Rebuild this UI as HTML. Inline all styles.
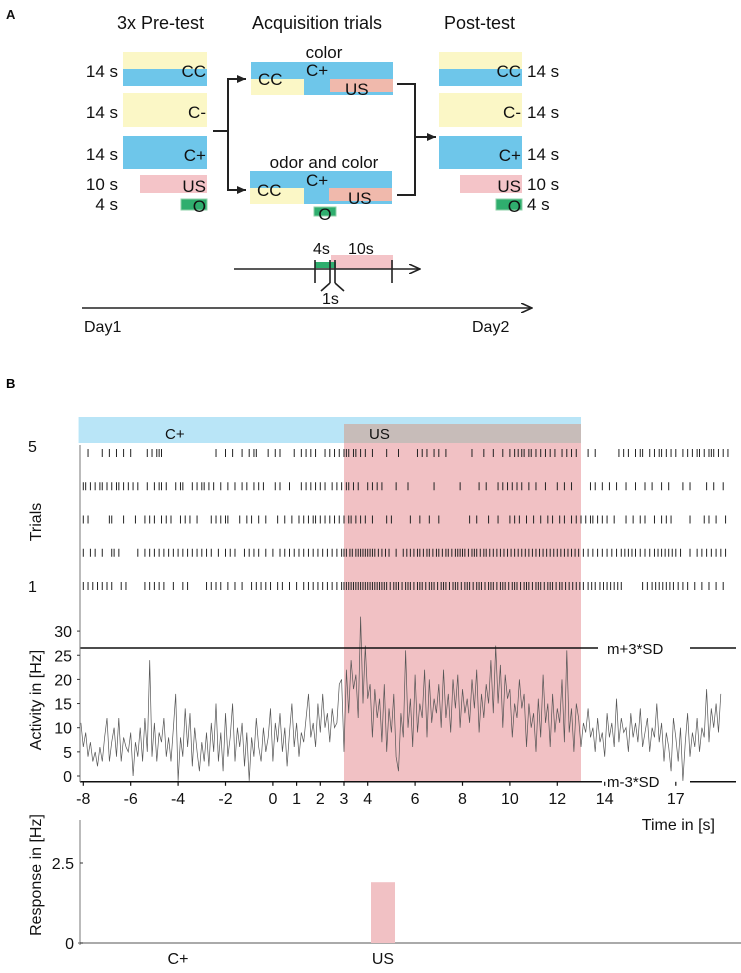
<!DOCTYPE html>
<html><head><meta charset="utf-8">
<style>
html,body{margin:0;padding:0;background:#fff;}
svg{display:block;font-family:"Liberation Sans",sans-serif;}
</style></head>
<body>
<svg id="fig" width="741" height="973" viewBox="0 0 741 973" xmlns="http://www.w3.org/2000/svg">
<defs>
<marker id="ah" markerWidth="12" markerHeight="10" refX="11" refY="5" orient="auto" markerUnits="userSpaceOnUse">
<path d="M0,0 L11,5 L0,10" fill="none" stroke="#222" stroke-width="1.6"/></marker>
<marker id="ahf" markerWidth="10" markerHeight="8" refX="9" refY="4" orient="auto" markerUnits="userSpaceOnUse">
<path d="M0,0 L9,4 L0,8 z" fill="#222"/></marker>
</defs>

<!-- PANEL A -->
<g font-size="17" fill="#111">
<text x="6" y="19" font-weight="bold" font-size="13">A</text>
<text x="117" y="29" font-size="18">3x Pre-test</text>
<text x="252" y="29" font-size="18">Acquisition trials</text>
<text x="444" y="29" font-size="18">Post-test</text>

<g>
<rect x="123" y="52" width="84" height="17" fill="#fbf7c6"/><rect x="123" y="69" width="84" height="17" fill="#6ec6ea"/>
<text x="206" y="77" text-anchor="end" font-size="17">CC</text>
<rect x="123" y="93" width="84" height="34" fill="#fbf7c6"/><text x="206" y="118" text-anchor="end" font-size="17">C-</text>
<rect x="123" y="136" width="84" height="33" fill="#6ec6ea"/><text x="206" y="161" text-anchor="end" font-size="17">C+</text>
<rect x="140" y="175" width="67" height="18" fill="#f4c4c8"/><text x="206" y="192" text-anchor="end" font-size="17">US</text>
<rect x="181" y="199" width="26" height="11" fill="#2fae6e" stroke="#8fd0a8"/><text x="206" y="212" text-anchor="end" font-size="17">O</text>
<text x="118" y="77" text-anchor="end">14 s</text><text x="118" y="118" text-anchor="end">14 s</text>
<text x="118" y="160" text-anchor="end">14 s</text><text x="118" y="190" text-anchor="end">10 s</text>
<text x="118" y="210" text-anchor="end">4 s</text>
</g>

<g>
<rect x="439" y="52" width="83" height="17" fill="#fbf7c6"/><rect x="439" y="69" width="83" height="17" fill="#6ec6ea"/>
<text x="521" y="77" text-anchor="end" font-size="17">CC</text>
<rect x="439" y="93" width="83" height="34" fill="#fbf7c6"/><text x="521" y="118" text-anchor="end" font-size="17">C-</text>
<rect x="439" y="136" width="83" height="33" fill="#6ec6ea"/><text x="521" y="161" text-anchor="end" font-size="17">C+</text>
<rect x="460" y="175" width="62" height="18" fill="#f4c4c8"/><text x="521" y="192" text-anchor="end" font-size="17">US</text>
<rect x="496" y="199" width="26" height="11" fill="#2fae6e" stroke="#8fd0a8"/><text x="521" y="212" text-anchor="end" font-size="17">O</text>
<text x="527" y="77">14 s</text><text x="527" y="118">14 s</text><text x="527" y="160">14 s</text>
<text x="527" y="190">10 s</text><text x="527" y="210">4 s</text>
</g>

<g>
<text x="324" y="58" text-anchor="middle">color</text>
<rect x="251" y="62" width="53" height="17" fill="#6ec6ea"/><rect x="251" y="79" width="53" height="16" fill="#fbf7c6"/>
<rect x="304" y="62" width="89" height="33" fill="#6ec6ea"/><rect x="330" y="79" width="63" height="13" fill="#f0b9ac"/>
<text x="258" y="85" font-size="17">CC</text><text x="306" y="76" font-size="17">C+</text><text x="345" y="95" font-size="17">US</text>
</g>
<g>
<text x="324" y="168" text-anchor="middle">odor and color</text>
<rect x="250" y="171" width="54" height="17" fill="#6ec6ea"/><rect x="250" y="188" width="54" height="16" fill="#fbf7c6"/>
<rect x="304" y="171" width="88" height="33" fill="#6ec6ea"/><rect x="329" y="188" width="63" height="13" fill="#f0b9ac"/>
<rect x="314" y="207" width="22" height="9" fill="#2fae6e" stroke="#8fd0a8"/>
<text x="257" y="196" font-size="17">CC</text><text x="306" y="186" font-size="17">C+</text><text x="348" y="204" font-size="17">US</text>
<text x="325" y="220" text-anchor="middle" font-size="17">O</text>
</g>

<g stroke="#222" stroke-width="2" fill="none">
<path d="M213,131 H228 V79 H246" marker-end="url(#ahf)"/>
<path d="M228,131 V190 H246" marker-end="url(#ahf)"/>
<path d="M397,84 H415 V195 H397"/>
<path d="M415,137 H436" marker-end="url(#ahf)"/>
</g>

<g>
<rect x="331" y="255" width="62" height="14" fill="#f4c4c8"/>
<rect x="315" y="262" width="21" height="6" fill="#2fae6e"/>
<line x1="234" y1="269" x2="420" y2="269" stroke="#222" stroke-width="1.6" marker-end="url(#ah)"/>
<g stroke="#222" stroke-width="1.6">
<line x1="315" y1="260" x2="315" y2="283"/><line x1="330" y1="260" x2="330" y2="283"/>
<line x1="335" y1="260" x2="335" y2="283"/><line x1="392" y1="260" x2="392" y2="283"/>
<path d="M330,283 L321,291 M335,283 L344,291" fill="none"/></g>
<text x="313" y="254" font-size="16">4s</text><text x="348" y="254" font-size="16">10s</text>
<text x="322" y="304" font-size="16">1s</text>
</g>
<line x1="82" y1="308" x2="532" y2="308" stroke="#222" stroke-width="1.6" marker-end="url(#ah)"/>
<text x="84" y="332" font-size="16">Day1</text>
<text x="472" y="332" font-size="16">Day2</text>
</g>

<!-- PANEL B -->
<text x="6" y="388" font-weight="bold" font-size="13">B</text>
<g id="panelB" font-size="15" fill="#111"></g>
</svg>

<script>
// ---- data ----
const trace = [11,6,9,4,7,3,5,2,6,3,8,12,3,7,10,4,12,3,8,6,5,9,0,7,4,10,3,12,5,24,4,11,3,9,7,12,4,8,3,10,17,-1,8,4,14,6,13,2,10,5,
1,7,3,9,2,11,5,15,3,9,1,13,4,8,15,3,10,6,11,2,9,-1,8,4,12,6,3,10,5,8,14,3,11,7,13,5,10,2,9,15,6,11,4,9,7,12,17,8,11,6,15,9,17,10,13,7,14,10,11,19,
20,5,22,13,24,18,21,12,33,15,27,16,19,8,18,12,16,7,19,5,14,9,17,4,1,13,8,26,10,16,6,21,9,15,12,22,8,20,11,16,13,19,10,22,12,17,9,20,14,21,10,18,13,16,11,20,14,22,9,17,12,19,15,24,13,27,15,23,10,21,16,18,8,15,12,20,14,17,6,15,10,13,5,16,8,21,11,15,6,17,9,14,11,20,7,26,9,14,5,15,
12,6,11,9,14,8,10,5,12,7,9,4,13,8,11,6,16,7,12,9,10,5,13,8,11,7,14,6,9,12,5,10,8,15,7,11,3,9,6,1,12,8,3,10,-1,7,13,4,9,6,12,5,10,8,18,7,14,10,15,9,17];
const traceStart = -8.1, traceStep = 0.1;
const thresholdHigh = 26.5, thresholdLow = -1.2;
const xTicks = [-8,-6,-4,-2,0,1,2,3,4,6,8,10,12,14,17];
const yTicks = [0,5,10,15,20,25,30];
const responseCats = ["C+","US"];
const responseVals = [0, 1.9];
const csStart = -8.2, usStart = 3, usEnd = 13;
const spikes5 = [-7.8,-7.2,-6.9,-6.6,-6.3,-6.0,-5.3,-5.1,-4.9,-4.8,-4.7,-2.4,-2.0,-1.7,-1.3,-1.0,-0.8,-0.7,-0.2,0.1,0.3,0.9,1.2,1.4,1.6,1.8,2.2,2.4,2.6,2.8,3.0,3.1,3.2,3.4,3.5,3.7,3.9,4.2,4.8,5.3,6.1,6.3,6.5,6.8,7.0,7.3,8.4,8.9,9.3,9.7,10.0,10.2,10.35,10.5,10.6,10.8,10.9,11.1,11.3,11.5,11.7,11.9,12.2,12.4,12.6,12.8,13.3,13.6,14.6,14.8,15.0,15.3,15.5,15.6,15.9,16.1,16.3,16.4,16.6,16.8,17.0,17.3,17.5,17.7,17.9,18.0,18.2,18.4,18.5,18.6,18.8,19.0,19.2];
const spikes4 = [-8.0,-7.9,-7.7,-7.5,-7.3,-7.2,-7.0,-6.8,-6.6,-6.5,-6.3,-6.1,-5.9,-5.7,-5.3,-5.0,-4.8,-4.7,-4.5,-4.1,-3.9,-3.8,-3.4,-3.2,-3.0,-2.9,-2.7,-2.5,-2.2,-1.9,-1.6,-1.3,-1.1,-0.8,-0.6,-0.4,0.1,0.3,0.7,1.2,1.4,1.6,1.8,2.0,2.2,2.5,2.7,2.9,3.1,3.2,3.4,3.6,4.0,4.2,4.4,4.6,5.2,5.7,6.8,7.9,8.7,9.0,9.5,9.7,9.9,10.1,10.3,10.5,10.8,11.1,11.5,12.0,12.3,12.6,13.4,13.6,13.9,14.2,14.5,14.9,15.3,15.7,16.0,16.4,16.7,17.3,17.6,18.3,18.6,19.0];
const spikes3 = [-8.0,-7.8,-6.9,-6.8,-6.3,-5.8,-5.4,-5.2,-5.0,-4.7,-4.5,-4.3,-3.9,-3.7,-3.5,-3.2,-2.6,-2.4,-2.2,-2.0,-1.9,-1.4,-1.1,-0.9,-0.6,-0.3,0.2,0.5,0.8,1.1,1.3,1.5,1.7,1.8,2.0,2.2,2.4,2.6,2.8,3.0,3.2,3.3,3.5,3.7,3.9,4.2,4.8,5.0,5.8,6.2,6.6,7.0,8.3,8.6,9.1,9.5,10.0,10.2,10.4,10.7,11.0,11.3,11.6,11.8,12.1,12.3,12.6,12.8,13.0,13.2,13.4,13.5,13.7,13.9,14.1,14.4,14.9,15.2,15.5,15.7,16.1,16.4,16.6,16.8,17.6,18.2,18.4,18.7,19.1];
const spikes2 = [-8.0,-7.7,-7.5,-7.2,-6.8,-6.7,-6.5,-5.7,-5.4,-5.2,-5.0,-4.8,-4.6,-4.4,-4.2,-4.0,-3.8,-3.6,-3.4,-3.2,-3.0,-2.8,-2.6,-2.3,-2.0,-1.8,-1.6,-1.2,-1.0,-0.8,-0.6,-0.3,0.0,0.3,0.5,0.7,0.9,1.1,1.3,1.5,1.7,1.9,2.1,2.3,2.5,2.7,2.9,3.0,3.1,3.25,3.35,3.5,3.6,3.7,3.8,3.9,4.0,4.1,4.2,4.3,4.45,4.6,4.75,4.9,5.2,5.5,5.65,5.8,5.95,6.1,6.2,6.35,6.5,6.6,6.75,6.9,7.0,7.15,7.3,7.4,7.55,7.7,7.8,7.9,8.0,8.1,8.25,8.4,8.5,8.6,8.75,8.9,9.0,9.15,9.3,9.45,9.6,9.75,9.9,10.05,10.2,10.35,10.5,10.65,10.8,10.95,11.1,11.25,11.4,11.55,11.7,11.85,12.0,12.15,12.3,12.45,12.6,12.75,12.9,13.1,13.3,13.5,13.7,13.9,14.1,14.3,14.5,14.7,14.85,15.0,15.15,15.3,15.5,15.7,15.9,16.1,16.25,16.4,16.55,16.7,16.85,17.0,17.2,17.6,17.9,18.1,18.3,18.5,18.7,18.9,19.1];
const spikes1 = [-8.0,-7.8,-7.6,-7.4,-7.2,-7.0,-6.8,-6.4,-6.2,-5.4,-5.2,-5.0,-4.8,-4.6,-4.2,-3.8,-3.6,-2.8,-2.6,-2.4,-2.2,-1.9,-1.6,-1.3,-0.9,-0.7,-0.5,-0.3,-0.1,0.2,0.4,0.7,1.0,1.3,1.5,1.7,1.9,2.1,2.3,2.5,2.7,2.9,3.0,3.1,3.2,3.3,3.4,3.5,3.6,3.7,3.8,3.9,4.0,4.1,4.2,4.3,4.4,4.5,4.6,4.7,4.8,4.95,5.1,5.2,5.3,5.45,5.6,5.7,5.8,5.95,6.1,6.2,6.3,6.45,6.6,6.7,6.8,6.95,7.1,7.2,7.3,7.45,7.6,7.7,7.8,7.95,8.1,8.2,8.3,8.45,8.6,8.7,8.8,8.95,9.1,9.2,9.3,9.45,9.6,9.7,9.8,9.95,10.1,10.2,10.3,10.45,10.6,10.7,10.8,10.95,11.1,11.2,11.3,11.45,11.6,11.7,11.8,11.95,12.1,12.2,12.35,12.5,12.65,12.8,12.95,13.1,13.3,13.45,13.6,13.8,13.95,14.1,14.25,14.4,14.55,14.7,15.6,15.8,16.0,16.15,16.3,16.45,16.6,16.75,16.9,17.1,17.3,17.5,17.8,18.1,18.4,18.7,19.0];
const trials = [spikes1, spikes2, spikes3, spikes4, spikes5];

// ---- scales ----
const NS = "http://www.w3.org/2000/svg";
const g = document.getElementById('panelB');
const xs = t => 344 + (t - 3) * 23.7;
const ys = v => 776 - v * 4.83;
const rowY = i => 586 - i * 33.25;
const yr = v => 943 - v * 32;
function mk(tag, attrs, parent){const e=document.createElementNS(NS,tag);for(const k in attrs)e.setAttribute(k,attrs[k]);(parent||g).appendChild(e);return e;}

// stimulus bars
const cs = mk('rect',{x:xs(csStart),y:417,width:xs(usEnd)-xs(csStart),height:26,fill:'#b9e5f7'});


const usb = mk('rect',{x:xs(usStart),y:424,width:xs(usEnd)-xs(usStart),height:19,fill:'#c7bcb9'});


const usp = mk('rect',{x:xs(usStart),y:443,width:xs(usEnd)-xs(usStart),height:339,fill:'#f1c1c4'});


let t1 = mk('text',{x:165,y:439});t1.textContent='C+';


let t2 = mk('text',{x:369,y:439});t2.textContent='US';



// raster
trials.forEach((arr, i) => {
  const row = mk('g',{stroke:'#222','stroke-width':1});
  
  
  arr.forEach(t => {
    const l = mk('line',{x1:xs(t),x2:xs(t),y1:rowY(i)-4,y2:rowY(i)+4}, row);
    
    
  });
});
let tl5 = mk('text',{x:28,y:452,'font-size':16});tl5.textContent='5';


let tl1 = mk('text',{x:28,y:592,'font-size':16});tl1.textContent='1';


let trl = mk('text',{x:41,y:522,'font-size':16,'text-anchor':'middle',transform:'rotate(-90 41 522)'});trl.textContent='Trials';



// trace
const pts = trace.map((v,i)=>xs(traceStart+i*traceStep).toFixed(1)+','+ys(v).toFixed(1)).join(' ');
const pl = mk('polyline',{points:pts,fill:'none',stroke:'#555','stroke-width':0.7});



// thresholds
const th = mk('line',{x1:80,x2:598,y1:ys(thresholdHigh),y2:ys(thresholdHigh),stroke:'#111','stroke-width':1.5});


const th2 = mk('line',{x1:690,x2:736,y1:ys(thresholdHigh),y2:ys(thresholdHigh),stroke:'#111','stroke-width':1.5});


let thl = mk('text',{x:607,y:ys(thresholdHigh)+6});thl.textContent='m+3*SD';


const tl = mk('line',{x1:80,x2:602,y1:ys(thresholdLow),y2:ys(thresholdLow),stroke:'#111','stroke-width':1.5});


const tl2 = mk('line',{x1:690,x2:736,y1:ys(thresholdLow),y2:ys(thresholdLow),stroke:'#111','stroke-width':1.5});


let tll = mk('text',{x:607,y:ys(thresholdLow)+5});tll.textContent='m-3*SD';



// y axis
const ya = mk('line',{x1:80,x2:80,y1:445,y2:782,stroke:'#777','stroke-width':1});


yTicks.forEach(v=>{
  mk('line',{x1:77,x2:80,y1:ys(v),y2:ys(v),stroke:'#333'});
  const t = mk('text',{x:72,y:ys(v)+6,'text-anchor':'end','font-size':16});t.textContent=v;
  
  
});
let yt = mk('text',{x:41,y:700,'font-size':16,'text-anchor':'middle',transform:'rotate(-90 41 700)'});yt.textContent='Activity in [Hz]';



// x ticks
xTicks.forEach(v=>{
  mk('line',{x1:xs(v),x2:xs(v),y1:ys(thresholdLow),y2:ys(thresholdLow)+4,stroke:'#111','stroke-width':1.2});
  const t = mk('text',{x:xs(v),y:804,'text-anchor':'middle','font-size':16});t.textContent=v;
  
  
});
let xt = mk('text',{x:715,y:830,'text-anchor':'end','font-size':16});xt.textContent='Time in [s]';



// response chart
const ra = mk('line',{x1:80,x2:80,y1:820,y2:945,stroke:'#777'});


const rb = mk('line',{x1:78,x2:741,y1:yr(0),y2:yr(0),stroke:'#777','stroke-width':1.2});


[0,2.5].forEach(v=>{
  mk('line',{x1:80,x2:83,y1:yr(v),y2:yr(v),stroke:'#333'});
  const t = mk('text',{x:74,y:yr(v)+6,'text-anchor':'end','font-size':16});t.textContent=v;
  
  
});
const catX = [178, 383];
responseCats.forEach((c,i)=>{
  const b = mk('rect',{x:catX[i]-12,y:yr(responseVals[i]),width:24,height:yr(0)-yr(responseVals[i]),fill:'#f1c1c4'});
  
  
  const t = mk('text',{x:catX[i],y:964,'text-anchor':'middle','font-size':16});t.textContent=c;
  
  
});
let rt = mk('text',{x:41,y:875,'font-size':16,'text-anchor':'middle',transform:'rotate(-90 41 875)'});rt.textContent='Response in [Hz]';


</script>
</body></html>
